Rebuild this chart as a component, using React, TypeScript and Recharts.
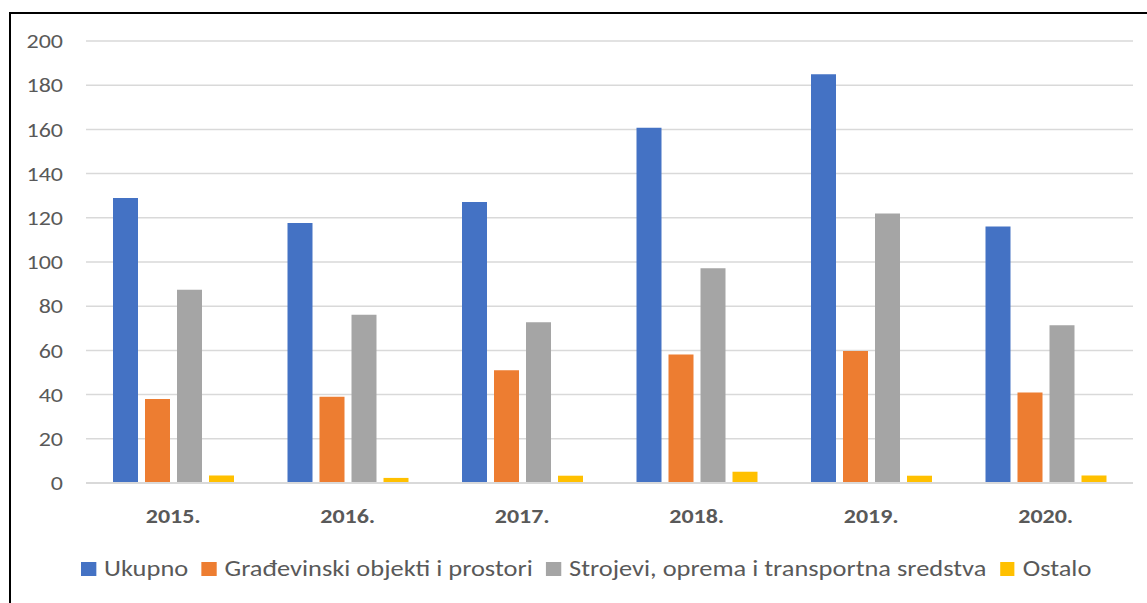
import React from 'react';
import { BarChart, Bar, XAxis, YAxis, CartesianGrid, Legend } from 'recharts';

const years = ['2015.', '2016.', '2017.', '2018.', '2019.', '2020.'];
const ukupno = [129.0, 117.6, 127.2, 160.7, 185.0, 116.1];
const gradjevinski = [38.0, 39.0, 51.0, 58.2, 59.7, 41.0];
const strojevi = [87.4, 76.1, 72.7, 97.2, 121.9, 71.4];
const ostalo = [3.4, 2.3, 3.3, 5.1, 3.3, 3.4];
const seriesNames = [
  'Ukupno',
  'Građevinski objekti i prostori',
  'Strojevi, oprema i transportna sredstva',
  'Ostalo',
];
const seriesColors = ['#4472C4', '#ED7D31', '#A5A5A5', '#FFC000'];
const yTicks = [0, 20, 40, 60, 80, 100, 120, 140, 160, 180, 200];

const seriesValues = [ukupno, gradjevinski, strojevi, ostalo];
const data = years.map((y, i) => {
  const row: Record<string, string | number> = { year: y };
  seriesNames.forEach((n, k) => {
    row[n] = seriesValues[k][i];
  });
  return row;
});

const FONT = 'Carlito, Lato, "Open Sans", sans-serif';
const TEXT = '#595959';
const STRETCH = 1.17;

const YTick = (props: any) => {
  const { x, y, payload } = props;
  return (
    <text
      x={x}
      y={y}
      dy="0.355em"
      textAnchor="end"
      fill={TEXT}
      fontSize={20.5}
      fontFamily={FONT}
      transform={`translate(${x},${y}) scale(${STRETCH},1) translate(${-x},${-y})`}
    >
      {payload.value}
    </text>
  );
};

const XTick = (props: any) => {
  const { x, y, payload } = props;
  return (
    <text
      x={x}
      y={y}
      dy="0.71em"
      textAnchor="middle"
      fill={TEXT}
      fontSize={20.5}
      fontWeight={700}
      fontFamily={FONT}
      transform={`translate(${x},${y}) scale(${STRETCH},1) translate(${-x},${-y})`}
    >
      {payload.value}
    </text>
  );
};

const renderLegend = () => (
  <div
    style={{
      display: 'flex',
      alignItems: 'center',
      fontFamily: FONT,
      fontSize: 22.4,
      color: TEXT,
      whiteSpace: 'nowrap',
      lineHeight: '28px',
      height: 28,
      transform: `scaleX(${1.18})`,
      transformOrigin: '0 50%',
    }}
  >
    {seriesNames.map((n, i) => (
      <div
        key={n}
        style={{ display: 'flex', alignItems: 'center', marginRight: i < seriesNames.length - 1 ? 11.3 : 0 }}
      >
        <span
          style={{
            width: 12.7,
            height: 14,
            background: seriesColors[i],
            marginRight: 6.8,
            display: 'inline-block',
          }}
        />
        <span>{n}</span>
      </div>
    ))}
  </div>
);

export default function App() {
  return (
    <div
      style={{
        position: 'absolute',
        left: 0,
        top: 0,
        width: 1147,
        height: 603,
        overflow: 'hidden',
        background: '#fff',
      }}
    >
      <div
        style={{
          position: 'absolute',
          left: 9,
          top: 12,
          width: 1300,
          height: 800,
          borderLeft: '2px solid #000',
          borderTop: '2px solid #000',
          boxSizing: 'border-box',
        }}
      />
      <div style={{ position: 'absolute', left: 0, top: 0 }}>
        <BarChart
          width={1147}
          height={603}
          data={data}
          margin={{ top: 41, right: 14, bottom: 90, left: 0 }}
          barCategoryGap={27}
          barGap={7}
        >
          <CartesianGrid vertical={false} stroke="#d9d9d9" strokeWidth={1.5} />
          <XAxis
            dataKey="year"
            height={30}
            axisLine={{ stroke: '#d9d9d9', strokeWidth: 2 }}
            tickLine={false}
            tickSize={0}
            tickMargin={25}
            interval={0}
            tick={<XTick />}
          />
          <YAxis
            width={86}
            domain={[0, 200]}
            ticks={yTicks}
            interval={0}
            axisLine={false}
            tickLine={false}
            tickSize={0}
            tickMargin={23}
            tick={<YTick />}
          />
          <Legend
            layout="horizontal"
            verticalAlign="middle"
            align="center"
            content={renderLegend}
            wrapperStyle={{ top: 555, left: 81, width: 1060 }}
          />
          {seriesNames.map((n, i) => (
            <Bar key={n} dataKey={n} fill={seriesColors[i]} isAnimationActive={false} />
          ))}
        </BarChart>
      </div>
    </div>
  );
}
